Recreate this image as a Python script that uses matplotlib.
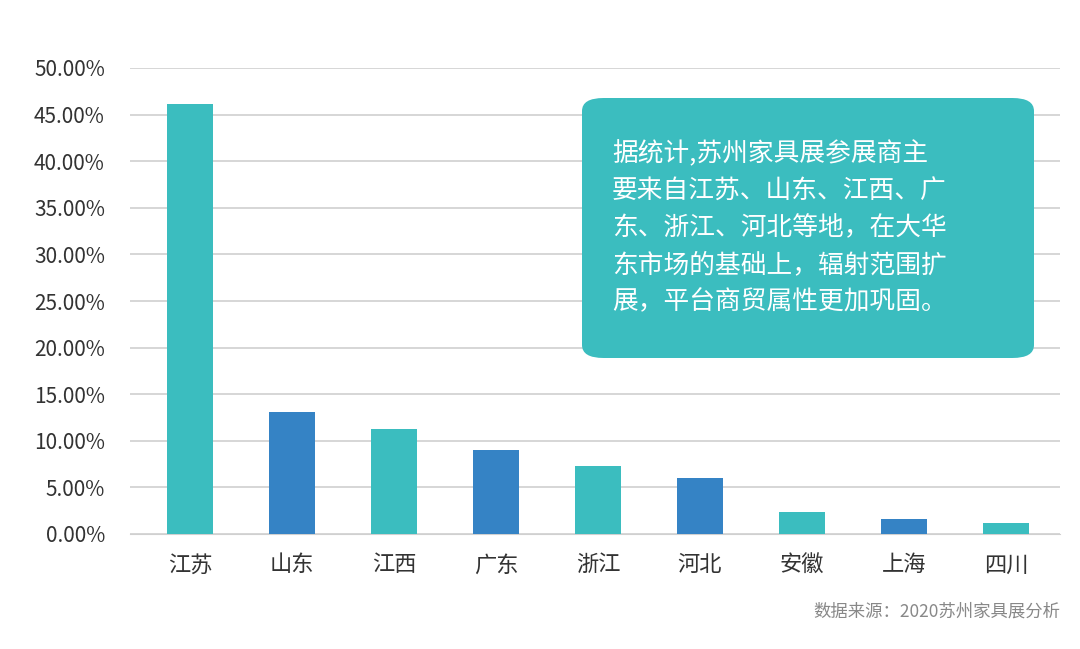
import matplotlib
matplotlib.use("Agg")
import matplotlib.pyplot as plt
from matplotlib.patches import FancyBboxPatch
from matplotlib.ticker import FuncFormatter

plt.rcParams['font.family'] = ['Noto Sans CJK SC', 'DejaVu Sans']

provinces = ["江苏", "山东", "江西", "广东", "浙江", "河北", "安徽", "上海", "四川"]
shares = [46.1, 13.1, 11.3, 9.0, 7.3, 6.0, 2.4, 1.6, 1.2]
colors = ["#3BBDBF", "#3583C5"] * 5

fig = plt.figure(figsize=(10.8, 6.49), dpi=100)
ax = fig.add_axes([130/1080, 1-534/649, 930/1080, 466/649])
ax.bar(range(len(provinces)), shares, width=0.45, color=colors[:len(provinces)], zorder=3)
ax.set_ylim(0, 50)
ax.set_xlim(-0.59, 8.53)
ax.set_yticks(range(0, 51, 5))
ax.yaxis.set_major_formatter(FuncFormatter(lambda v, p: f"{v:.2f}%"))
ax.grid(axis='y', color='#d0d0d0', lw=1.2, zorder=0)
for s in ax.spines.values():
    s.set_visible(False)
ax.spines['bottom'].set_visible(True)
ax.spines['bottom'].set_color('#d0d0d0')
ax.tick_params(length=0, labelsize=15, colors='#333333')
ax.tick_params(axis='y', pad=18)
ax.tick_params(axis='x', pad=14, labelsize=16)
ax.set_xticks(range(len(provinces)))
ax.set_xticklabels(provinces)

box = FancyBboxPatch((582/1080, 1-358/649), 452/1080, 260/649,
                     boxstyle="round,pad=0,rounding_size=0.02",
                     transform=fig.transFigure, facecolor="#3BBDBF", edgecolor="none", zorder=5)
fig.patches.append(box)
txt = "据统计,苏州家具展参展商主\n要来自江苏、山东、江西、广\n东、浙江、河北等地，在大华\n东市场的基础上，辐射范围扩\n展，平台商贸属性更加巩固。"
fig.text(612/1080, 1-228/649, txt, color='white', fontsize=18.5, va='center', ha='left',
         linespacing=1.55, zorder=6)

fig.text(1060/1080, 1-612/649, "数据来源：2020苏州家具展分析", color='#888888', fontsize=12.5,
         ha='right', va='center')
fig.savefig("out.png", dpi=100)
